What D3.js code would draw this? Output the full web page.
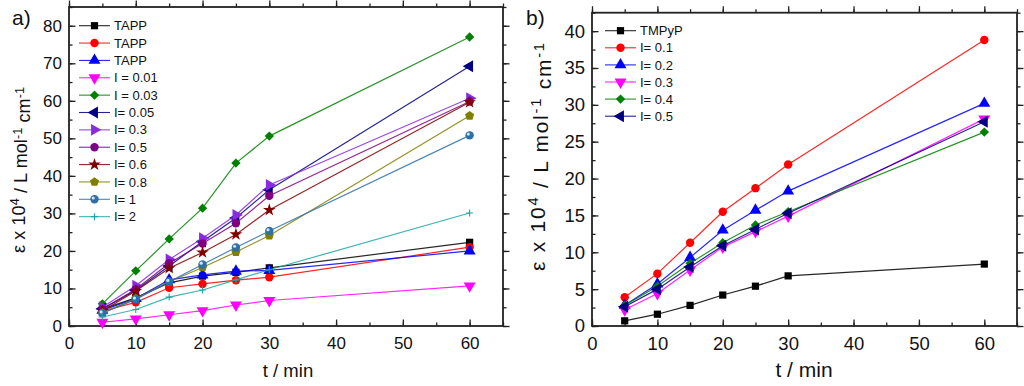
<!DOCTYPE html>
<html lang="en">
<head>
<meta charset="utf-8">
<title>Extinction coefficient vs time</title>
<script src="https://d3js.org/d3.v7.min.js"></script>
<style>
  body { margin: 0; background: #fff; }
  svg { display: block; font-family: "Liberation Sans", Arial, sans-serif; }
</style>
</head>
<body>
<script>
// time points (min), same for every series
var times = [5, 10, 15, 20, 25, 30, 60];

// panel a)
var labelsA = ["TAPP", "TAPP", "TAPP", "I = 0.01", "I = 0.03", "I= 0.05", "I= 0.3", "I= 0.5", "I= 0.6", "I= 0.8", "I= 1", "I= 2"];
var colorsA = ["#000000", "#ff0000", "#0000ff", "#ff00ff", "#008000", "#000080", "#8a2be2", "#800080", "#800000", "#808000", "#2f6fa8", "#20a5a5"];
var shapesA = ["square", "circle", "up", "down", "diamond", "left", "right", "circle", "star", "pentagon", "ball", "plus"];
var valuesA = [
  [4.5, 7.5, 11.5, 13.3, 14.3, 15.5, 22.3],
  [4.0, 6.3, 10.2, 11.2, 12.2, 13.0, 21.0],
  [4.2, 7.3, 12.3, 13.6, 14.6, 14.8, 20.0],
  [1.0, 1.9, 3.0, 4.1, 5.6, 6.8, 10.7],
  [5.9, 14.7, 23.2, 31.4, 43.4, 50.6, 77.0],
  [4.6, 9.5, 16.0, 22.5, 28.8, 36.3, 69.2],
  [5.0, 10.7, 17.7, 23.4, 29.6, 37.6, 60.7],
  [4.5, 9.8, 16.7, 22.0, 27.4, 34.7, 59.8],
  [4.0, 9.3, 15.4, 19.6, 24.4, 30.9, 59.6],
  [3.5, 7.3, 11.8, 15.6, 19.7, 24.1, 56.0],
  [3.4, 7.1, 11.8, 16.4, 20.9, 25.3, 50.8],
  [2.4, 4.4, 7.7, 9.6, 12.3, 15.0, 30.1]
];

// panel b)
var labelsB = ["TMPyP", "I= 0.1", "I= 0.2", "I= 0.3", "I= 0.4", "I= 0.5"];
var colorsB = ["#000000", "#ff0000", "#0000ff", "#ff00ff", "#008000", "#000080"];
var shapesB = ["square", "circle", "up", "down", "diamond", "left"];
var valuesB = [
  [0.7, 1.6, 2.8, 4.2, 5.4, 6.8, 8.4],
  [3.9, 7.1, 11.3, 15.5, 18.7, 21.9, 38.8],
  [2.8, 5.7, 9.3, 13.0, 15.7, 18.3, 30.2],
  [2.2, 4.4, 7.6, 10.7, 12.8, 14.9, 28.1],
  [2.8, 5.4, 8.5, 11.3, 13.7, 15.5, 26.3],
  [2.6, 5.0, 8.0, 10.9, 13.1, 15.3, 27.7]
];

var w = 1024, h = 386;
var svg = d3.select("body").append("svg").attr("width", w).attr("height", h);

// marker drawing
function marker(g, shape, color, x, y) {
  var m = g.append("g").attr("transform", "translate(" + x + "," + y + ")");
  if (shape == "square") {
    m.append("path").attr("d", d3.symbol(d3.symbolSquare, 52)()).attr("fill", color);
  } else if (shape == "circle") {
    m.append("path").attr("d", d3.symbol(d3.symbolCircle, 56)()).attr("fill", color);
  } else if (shape == "ball") {
    m.append("path").attr("d", d3.symbol(d3.symbolCircle, 56)()).attr("fill", color);
    m.append("circle").attr("cx", -1.3).attr("cy", -1.3).attr("r", 1.6).attr("fill", "#cfe3f5");
  } else if (shape == "diamond") {
    m.append("path").attr("d", d3.symbol(d3.symbolSquare, 44)()).attr("transform", "rotate(45)").attr("fill", color);
  } else if (shape == "up" || shape == "down" || shape == "left" || shape == "right") {
    var rot = {up: 0, down: 180, left: -90, right: 90}[shape];
    m.append("path").attr("d", d3.symbol(d3.symbolTriangle, 62)()).attr("transform", "rotate(" + rot + ")").attr("fill", color);
  } else if (shape == "star") {
    m.append("path").attr("d", d3.symbol(d3.symbolStar, 50)()).attr("fill", color);
  } else if (shape == "pentagon") {
    var pts = d3.range(5).map(function(i) {
      var a = -Math.PI / 2 + i * 2 * Math.PI / 5;
      return [4.8 * Math.cos(a), 4.8 * Math.sin(a)];
    });
    m.append("path").attr("d", "M" + pts.join("L") + "Z").attr("fill", color);
  } else if (shape == "plus") {
    m.append("path").attr("d", "M-3.5,0H3.5M0,-3.5V3.5").attr("stroke", color).attr("stroke-width", 1.1);
  }
}

function drawPanel(p) {
  var x = d3.scaleLinear().domain(p.xDom).range([p.left, p.right]);
  var y = d3.scaleLinear().domain(p.yDom).range([p.bottom, p.top]);
  var g = svg.append("g");
  var fs = p.fs;

  // ticks (all inward) on all four sides
  var xMinor = d3.range(0, p.xDom[1] + 0.01, 5);
  var xMajor = d3.range(0, p.xDom[1] + 0.01, 10);
  var yMinor = d3.range(0, p.yDom[1] + 0.01, p.yStep / 2);
  var yMajor = d3.range(0, p.yDom[1] + 0.01, p.yStep);

  function axes(axisFn, scale, vals, len, pos, pad) {
    var a = axisFn(scale).tickValues(vals).tickSizeInner(-len).tickSizeOuter(0).tickPadding(pad || 0);
    if (!pad) a.tickFormat("");
    var ax = g.append("g").attr("transform", pos).call(a);
    ax.select(".domain").remove();
    ax.selectAll("line").attr("stroke", "#222").attr("stroke-width", 1.3);
    ax.selectAll("text").attr("font-size", fs).attr("fill", "#111").attr("font-family", "Liberation Sans, Arial, sans-serif");
    return ax;
  }
  axes(d3.axisBottom, x, xMinor, 3.5, "translate(0," + p.bottom + ")");
  axes(d3.axisBottom, x, xMajor, 6.5, "translate(0," + p.bottom + ")", 11);
  axes(d3.axisTop, x, xMinor, -3.5, "translate(0," + p.top + ")");
  axes(d3.axisTop, x, xMajor, -6.5, "translate(0," + p.top + ")");
  axes(d3.axisLeft, y, yMinor, 3.5, "translate(" + p.left + ",0)");
  axes(d3.axisLeft, y, yMajor, 6.5, "translate(" + p.left + ",0)", 7);
  axes(d3.axisRight, y, yMinor, -3.5, "translate(" + p.right + ",0)");
  axes(d3.axisRight, y, yMajor, -6.5, "translate(" + p.right + ",0)");

  // frame
  g.append("rect").attr("x", p.left).attr("y", p.top)
    .attr("width", p.right - p.left).attr("height", p.bottom - p.top)
    .attr("fill", "none").attr("stroke", "#222").attr("stroke-width", 1.8);

  // series
  var line = d3.line().x(function(d, i) { return x(times[i]); }).y(function(d) { return y(d); });
  p.values.forEach(function(vals, k) {
    g.append("path").datum(vals).attr("d", line)
      .attr("fill", "none").attr("stroke", p.colors[k]).attr("stroke-width", 1.2).attr("opacity", 0.85);
    vals.forEach(function(v, i) { marker(g, p.shapes[k], p.colors[k], x(times[i]), y(v)); });
  });

  // legend
  p.labels.forEach(function(lab, k) {
    var ly = p.legY + k * p.legDy;
    g.append("line").attr("x1", p.legX).attr("x2", p.legX + 31).attr("y1", ly).attr("y2", ly)
      .attr("stroke", p.colors[k]).attr("stroke-width", 1.1).attr("opacity", 0.85);
    marker(g, p.shapes[k], p.colors[k], p.legX + 15.5, ly);
    g.append("text").attr("x", p.legX + 35).attr("y", ly + 4.6).attr("font-size", p.legFs)
      .attr("fill", "#111").text(lab);
  });

  // x title
  g.append("text").attr("x", p.xTitleX).attr("y", 377).attr("text-anchor", "middle")
    .attr("font-size", p.titleFs).attr("fill", "#111").text("t / min");

  // y title
  var yt = g.append("text").attr("text-anchor", "middle").attr("font-size", p.yTitleFs).attr("fill", "#111")
    .attr("textLength", p.yTitleLen).attr("lengthAdjust", "spacing")
    .attr("transform", "translate(" + p.yTitleX + "," + p.yTitleY + ") rotate(-90)");
  yt.append("tspan").text("\u03b5 x 10");
  yt.append("tspan").attr("dy", "-0.45em").attr("font-size", "0.7em").text("4");
  yt.append("tspan").attr("dy", "0.45em").text(" / L mol");
  yt.append("tspan").attr("dy", "-0.45em").attr("font-size", "0.7em").text("-1");
  yt.append("tspan").attr("dy", "0.45em").text(" cm");
  yt.append("tspan").attr("dy", "-0.45em").attr("font-size", "0.7em").text("-1");

  // panel letter
  g.append("text").attr("x", p.letterX).attr("y", 25).attr("font-size", 21).attr("fill", "#111").text(p.letter);
}

drawPanel({
  letter: "a)", letterX: 12,
  left: 69, right: 503, top: 7, bottom: 326,
  xDom: [0, 65], yDom: [0, 85], yStep: 10,
  fs: 17, titleFs: 18.5, legFs: 13,
  values: valuesA, colors: colorsA, shapes: shapesA, labels: labelsA,
  legX: 79, legY: 25.7, legDy: 17.36,
  xTitleX: 288, yTitleX: 25, yTitleY: 170, yTitleFs: 18, yTitleLen: 166
});

drawPanel({
  letter: "b)", letterX: 526,
  left: 592, right: 1017, top: 12.7, bottom: 326,
  xDom: [0, 65], yDom: [0, 42.5], yStep: 5,
  fs: 18.5, titleFs: 21, legFs: 13,
  values: valuesB, colors: colorsB, shapes: shapesB, labels: labelsB,
  legX: 605, legY: 30.7, legDy: 17.1,
  xTitleX: 804, yTitleX: 545, yTitleY: 157, yTitleFs: 21, yTitleLen: 228
});
</script>
</body>
</html>
